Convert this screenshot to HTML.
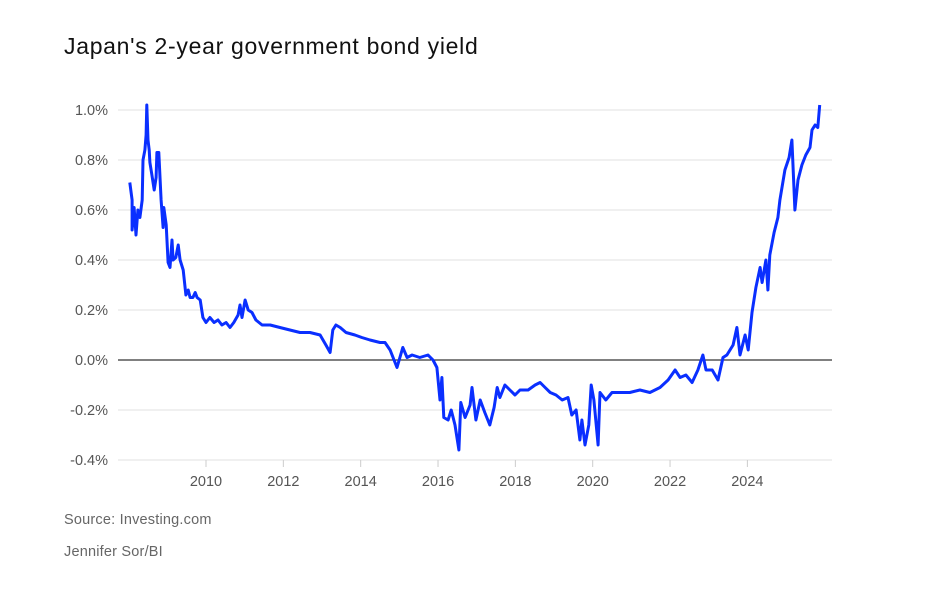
<!DOCTYPE html>
<html><head><meta charset="utf-8"><style>
body{margin:0;background:#fff;font-family:"Liberation Sans",sans-serif;}
#wrap{position:relative;width:925px;height:595px;}
h1{position:absolute;left:64px;top:33px;margin:0;font-weight:normal;font-size:23px;color:#111;letter-spacing:0.7px}
.note{position:absolute;left:64px;font-size:14.5px;color:#666;letter-spacing:0.2px}
</style></head><body>
<div id="wrap">
<h1>Japan's 2-year government bond yield</h1>
<svg id="chart" width="925" height="595" style="position:absolute;left:0;top:0"></svg>
<div class="note" style="top:512px">Source: Investing.com</div>
<div class="note" style="top:544px">Jennifer Sor/BI</div>
</div>
<script>
const dates=[2008.03,2008.09,2008.09,2008.14,2008.19,2008.24,2008.29,2008.35,2008.37,2008.42,2008.45,2008.47,2008.50,2008.53,2008.55,2008.60,2008.66,2008.71,2008.73,2008.78,2008.84,2008.89,2008.91,2008.97,2009.02,2009.07,2009.12,2009.15,2009.22,2009.28,2009.33,2009.41,2009.48,2009.54,2009.59,2009.66,2009.72,2009.77,2009.85,2009.92,2010.00,2010.10,2010.21,2010.31,2010.41,2010.52,2010.62,2010.72,2010.83,2010.88,2010.93,2011.01,2011.09,2011.19,2011.29,2011.45,2011.66,2011.91,2012.17,2012.43,2012.69,2012.95,2013.10,2013.21,2013.28,2013.36,2013.47,2013.62,2013.85,2014.03,2014.24,2014.50,2014.63,2014.76,2014.94,2015.09,2015.20,2015.33,2015.53,2015.74,2015.87,2015.97,2016.05,2016.10,2016.15,2016.26,2016.34,2016.44,2016.54,2016.59,2016.70,2016.83,2016.88,2016.98,2017.09,2017.21,2017.34,2017.45,2017.53,2017.60,2017.73,2017.86,2017.99,2018.12,2018.33,2018.51,2018.64,2018.77,2018.90,2019.05,2019.21,2019.36,2019.46,2019.57,2019.67,2019.72,2019.80,2019.90,2019.96,2020.03,2020.14,2020.19,2020.34,2020.50,2020.71,2020.96,2021.22,2021.48,2021.74,2021.95,2022.13,2022.26,2022.41,2022.57,2022.72,2022.85,2022.93,2023.09,2023.24,2023.37,2023.47,2023.63,2023.73,2023.81,2023.94,2024.02,2024.12,2024.22,2024.33,2024.38,2024.48,2024.53,2024.58,2024.69,2024.79,2024.84,2024.97,2025.08,2025.15,2025.23,2025.31,2025.41,2025.51,2025.62,2025.67,2025.75,2025.82,2025.87];
const yields=[0.71,0.64,0.52,0.61,0.50,0.60,0.57,0.64,0.80,0.84,0.90,1.02,0.88,0.84,0.79,0.74,0.68,0.73,0.83,0.83,0.64,0.53,0.61,0.54,0.39,0.37,0.48,0.40,0.41,0.46,0.40,0.36,0.26,0.28,0.25,0.25,0.27,0.25,0.24,0.17,0.15,0.17,0.15,0.16,0.14,0.15,0.13,0.15,0.18,0.22,0.17,0.24,0.20,0.19,0.16,0.14,0.14,0.13,0.12,0.11,0.11,0.10,0.06,0.03,0.12,0.14,0.13,0.11,0.10,0.09,0.08,0.07,0.07,0.04,-0.03,0.05,0.01,0.02,0.01,0.02,0.00,-0.03,-0.16,-0.07,-0.23,-0.24,-0.20,-0.26,-0.36,-0.17,-0.23,-0.18,-0.11,-0.24,-0.16,-0.21,-0.26,-0.19,-0.11,-0.15,-0.10,-0.12,-0.14,-0.12,-0.12,-0.10,-0.09,-0.11,-0.13,-0.14,-0.16,-0.15,-0.22,-0.20,-0.32,-0.24,-0.34,-0.26,-0.10,-0.16,-0.34,-0.13,-0.16,-0.13,-0.13,-0.13,-0.12,-0.13,-0.11,-0.08,-0.04,-0.07,-0.06,-0.09,-0.04,0.02,-0.04,-0.04,-0.08,0.01,0.02,0.06,0.13,0.02,0.10,0.04,0.19,0.29,0.37,0.31,0.40,0.28,0.42,0.51,0.57,0.64,0.76,0.81,0.88,0.60,0.72,0.78,0.82,0.85,0.92,0.94,0.93,1.02];
const yTicks=[-0.4,-0.2,0,0.2,0.4,0.6,0.8,1.0];
const yTickLabels=["-0.4%","-0.2%","0.0%","0.2%","0.4%","0.6%","0.8%","1.0%"];
const xTicks=[2010,2012,2014,2016,2018,2020,2022,2024];

const NS="http://www.w3.org/2000/svg";
const svg=document.getElementById('chart');
const X=v=>206+(v-2010)*38.67;
const Y=v=>360-v*250;
function mk(t,a){const e=document.createElementNS(NS,t);for(const k in a)e.setAttribute(k,a[k]);svg.appendChild(e);return e;}
yTicks.forEach((t,i)=>{
  const g=mk('line',{x1:118,x2:832,y1:Y(t),y2:Y(t),stroke:t===0?'#000':'#e2e2e2','stroke-width':1});
  
  
  const l=mk('text',{x:108,y:Y(t)+5,'text-anchor':'end','font-size':14.5,fill:'#555','font-family':'Liberation Sans, sans-serif'});
  l.textContent=yTickLabels[i];
  
  
});
xTicks.forEach(t=>{
  const tk=mk('line',{x1:X(t),x2:X(t),y1:460,y2:467,stroke:'#ccc','stroke-width':1});
  
  
  const l=mk('text',{x:X(t),y:486,'text-anchor':'middle','font-size':14.5,fill:'#555','font-family':'Liberation Sans, sans-serif'});
  l.textContent=t;
  
  
});
const d=dates.map((t,i)=>(i?'L':'M')+X(t).toFixed(1)+' '+Y(yields[i]).toFixed(1)).join(' ');
const p=mk('path',{d:d,fill:'none',stroke:'#0a2fff','stroke-width':3,'stroke-linejoin':'round'});


</script>
</body></html>
